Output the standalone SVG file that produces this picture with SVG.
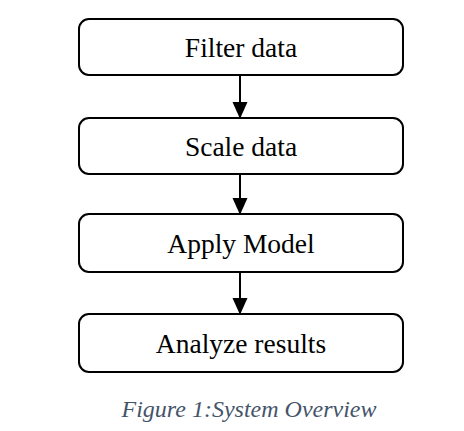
<svg xmlns="http://www.w3.org/2000/svg" width="464" height="431" viewBox="0 0 464 431">
<defs>
<style>
.box{fill:#fff;stroke:#000;stroke-width:2}
.lbl{font-family:"Liberation Serif","Times New Roman",serif;font-size:27.5px;fill:#000;text-anchor:middle}
.cap{font-family:"Liberation Serif","Times New Roman",serif;font-size:24px;font-style:italic;fill:#44546A;text-anchor:middle}
.edge{stroke:#000;stroke-width:2;fill:none}
</style>
<marker id="arr" markerWidth="17" markerHeight="19" refX="17" refY="8.5" orient="auto" markerUnits="userSpaceOnUse" viewBox="0 0 19 17">
<path d="M0,0 L19,8.5 L0,17 z" fill="#000"/>
</marker>
</defs>
<rect width="464" height="431" fill="#fff"/>
<g id="connectors">
<line class="edge" x1="240" y1="75" x2="240" y2="117" marker-end="url(#arr)"/>
<line class="edge" x1="240" y1="174" x2="240" y2="213" marker-end="url(#arr)"/>
<line class="edge" x1="240" y1="273" x2="240" y2="313" marker-end="url(#arr)"/>
</g>
<g id="n1"><rect class="box" x="79" y="19" width="324" height="56" rx="10"/><text class="lbl" x="241" y="57">Filter data</text></g>
<g id="n2"><rect class="box" x="79" y="118" width="324" height="56" rx="10"/><text class="lbl" x="241" y="156">Scale data</text></g>
<g id="n3"><rect class="box" x="79" y="214" width="324" height="58" rx="10"/><text class="lbl" x="241" y="253">Apply Model</text></g>
<g id="n4"><rect class="box" x="79" y="314" width="324" height="58" rx="10"/><text class="lbl" x="241" y="353">Analyze results</text></g>
<text class="cap" x="249" y="417">Figure 1:System Overview</text>
</svg>
